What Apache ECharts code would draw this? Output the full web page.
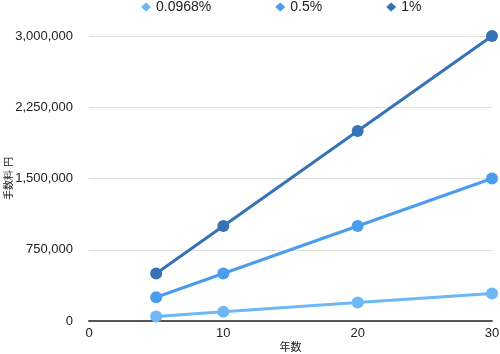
<!DOCTYPE html>
<html lang="ja">
<head>
    <meta charset="UTF-8">
    <script src="https://cdn.jsdelivr.net/npm/echarts@6/dist/echarts.min.js"></script>
    <title>手数料</title>
    <style>
        html, body { margin: 0; padding: 0; width: 100%; height: 100%; background: #fff; }
        #chart { width: 500px; height: 354px; }
    </style>
</head>
<body>
<div id="chart"></div>
<script>
    // 年数と手数料(円)
    var years = [5, 10, 20, 30];
    var fee00968 = [48400, 96800, 193600, 290400];
    var fee05 = [250000, 500000, 1000000, 1500000];
    var fee1 = [500000, 1000000, 2000000, 3000000];
    var seriesNames = ['0.0968%', '0.5%', '1%'];
    var colors = ['#6db7f4', '#4b9cec', '#3872b6'];

    function pairs(vals) {
        return years.map(function (y, i) { return [y, vals[i]]; });
    }

    var font = '"Liberation Sans", "Noto Sans CJK JP", sans-serif';
    var chart = echarts.init(document.getElementById('chart'));
    var mk = function (name, vals, color) {
        return {
            name: name,
            type: 'line',
            data: pairs(vals),
            symbol: 'circle',
            symbolSize: 12,
            lineStyle: { width: 3, color: color },
            itemStyle: { color: color },
            z: 3
        };
    };
    chart.setOption({
        animation: false,
        color: colors,
        textStyle: { fontFamily: font },
        legend: {
            top: 0,
            left: 136,
            padding: [0, 5],
            itemGap: 64,
            itemWidth: 10,
            itemHeight: 9,
            icon: 'diamond',
            textStyle: { fontSize: 14, color: '#222' },
            data: seriesNames
        },
        grid: { left: 89, right: 8, top: 36, bottom: 33, outerBoundsMode: 'none' },
        xAxis: {
            type: 'value',
            min: 0,
            max: 30,
            interval: 10,
            name: '年数',
            nameLocation: 'middle',
            nameGap: 21,
            nameMoveOverlap: false,
            nameTextStyle: { fontSize: 11, color: '#222' },
            axisLine: { lineStyle: { color: '#555', width: 2 } },
            axisTick: { show: false },
            splitLine: { show: false },
            axisLabel: { fontSize: 13, color: '#222', margin: 6 }
        },
        yAxis: {
            type: 'value',
            min: 0,
            max: 3000000,
            interval: 750000,
            name: '手数料 円',
            nameLocation: 'middle',
            nameRotate: 90,
            nameGap: 75,
            nameMoveOverlap: false,
            nameTextStyle: { fontSize: 10, color: '#222' },
            axisLine: { show: false },
            axisTick: { show: false },
            splitLine: { lineStyle: { color: '#ddd' } },
            axisLabel: {
                fontSize: 13, color: '#222', margin: 16,
                formatter: function (v) { return v.toLocaleString('en-US'); }
            }
        },
        series: [
            mk(seriesNames[0], fee00968, colors[0]),
            mk(seriesNames[1], fee05, colors[1]),
            mk(seriesNames[2], fee1, colors[2])
        ]
    });
</script>
</body>
</html>
